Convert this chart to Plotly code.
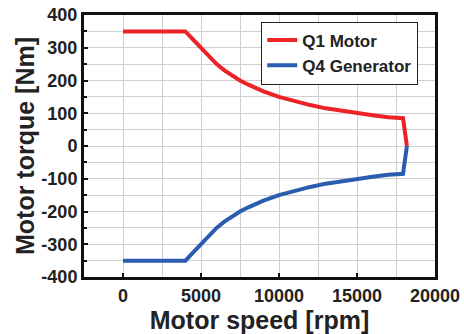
import plotly.graph_objects as go

# Torque-speed envelope, motoring (Q1) and generating (Q4)
speed_rpm = [0, 4000, 4500, 5000, 5500, 6000, 6500, 7000, 7500, 8000, 8500, 9000,
             10000, 11000, 12000, 13000, 14000, 15000, 16000, 17000, 17950, 18200]
q1_torque = [350, 350, 325, 300, 273, 250, 231, 214, 200, 188, 176, 167,
             150, 136, 125, 115, 107, 100, 94, 88, 85, 0]
q4_torque = [-350, -350, -325, -300, -273, -250, -231, -214, -200, -188, -176, -167,
             -150, -136, -125, -115, -107, -100, -94, -88, -85, 0]

x_tick_vals = [0, 5000, 10000, 15000, 20000]
x_tick_text = ["0", "5000", "10000", "15000", "20000"]
y_tick_vals = [-400, -300, -200, -100, 0, 100, 200, 300, 400]
y_tick_text = ["-400", "-300", "-200", "-100", "0", "100", "200", "300", "400"]

font_family = "Liberation Sans, Arial, sans-serif"
text_color = "#222222"


def bold(items):
    return ["<b>%s</b>" % s for s in items]


fig = go.Figure()
fig.add_trace(go.Scatter(x=speed_rpm, y=q1_torque, mode="lines", name="<b>Q1 Motor</b>",
                         line=dict(color="#ec2227", width=4)))
fig.add_trace(go.Scatter(x=speed_rpm, y=q4_torque, mode="lines", name="<b>Q4 Generator</b>",
                         line=dict(color="#2a5caf", width=4)))

axis_common = dict(
    showline=True, linecolor="#111111", linewidth=3, mirror=True,
    ticks="inside", ticklen=4, tickwidth=2, tickcolor="#111111",
    showgrid=True, gridcolor="#cfcfcf", gridwidth=1,
    zeroline=False, automargin=False,
    tickfont=dict(family=font_family, size=18, color=text_color),
)

fig.update_xaxes(
    range=[-2500, 20000], tickmode="array",
    tickvals=x_tick_vals, ticktext=bold(x_tick_text),
    minor=dict(dtick=2500, tick0=0, showgrid=True, gridcolor="#cfcfcf", ticks=""),
    title=dict(text="<b>Motor speed [rpm]</b>", standoff=4,
               font=dict(family=font_family, size=25, color=text_color)),
    **axis_common,
)
fig.update_yaxes(
    range=[-400, 400], tickmode="array",
    tickvals=y_tick_vals, ticktext=bold(y_tick_text),
    minor=dict(dtick=50, tick0=0, showgrid=True, gridcolor="#cfcfcf", ticks="inside",
               ticklen=3, tickcolor="#111111"),
    title=dict(text="<b>Motor torque [Nm]</b>", standoff=0,
               font=dict(family=font_family, size=25, color=text_color)),
    **axis_common,
)

fig.update_layout(
    width=464, height=334,
    margin=dict(l=84, r=29, t=15, b=57),
    plot_bgcolor="white", paper_bgcolor="white",
    showlegend=True,
    legend=dict(x=0.505, y=0.975, xanchor="left", yanchor="top",
                bgcolor="white", bordercolor="#222222", borderwidth=1,
                font=dict(family=font_family, size=17, color=text_color),
                tracegroupgap=0, itemwidth=30),
)

fig.write_html("out.html")
